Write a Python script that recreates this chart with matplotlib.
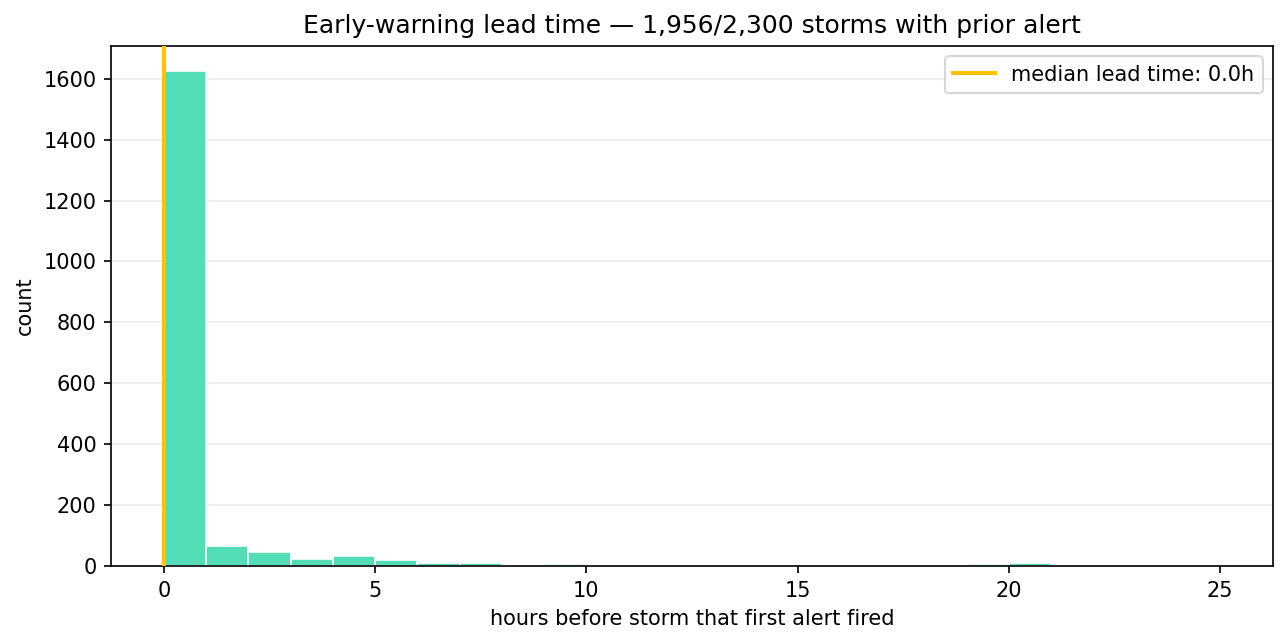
import numpy as np
import matplotlib.pyplot as plt

# lead-time histogram (1 h bins, 0..25 h)
bin_edges = list(range(0, 26))
counts = [1626, 65, 45, 24, 32, 20, 11, 10, 3, 6,
          3, 2, 2, 0, 0, 0, 0, 1, 3, 6,
          10, 3, 2, 0, 0]
median_lead = 0.0
n_alert = 1956
n_total = 2300

fig, ax = plt.subplots(figsize=(12.88 / 1.5, 6.44 / 1.5), dpi=150)
fig.subplots_adjust(left=0.0862, right=0.9884, top=0.9286, bottom=0.1211)

ax.hist(bin_edges[:-1], bins=bin_edges, weights=counts,
        color="#52ddb7", edgecolor="white", linewidth=0.8, zorder=2)
ax.axvline(median_lead, color="#ffc107", linewidth=2,
           label=f"median lead time: {median_lead:.1f}h", zorder=3)

ax.grid(axis="y", color="#ececec", linewidth=0.8, zorder=0)
ax.set_axisbelow(True)
ax.set_xlabel("hours before storm that first alert fired")
ax.set_ylabel("count")
ax.set_title(f"Early-warning lead time \u2014 {n_alert:,}/{n_total:,} storms with prior alert",
             fontsize=12)
ax.legend(loc="upper right")

fig.savefig("out.png", dpi=150)
